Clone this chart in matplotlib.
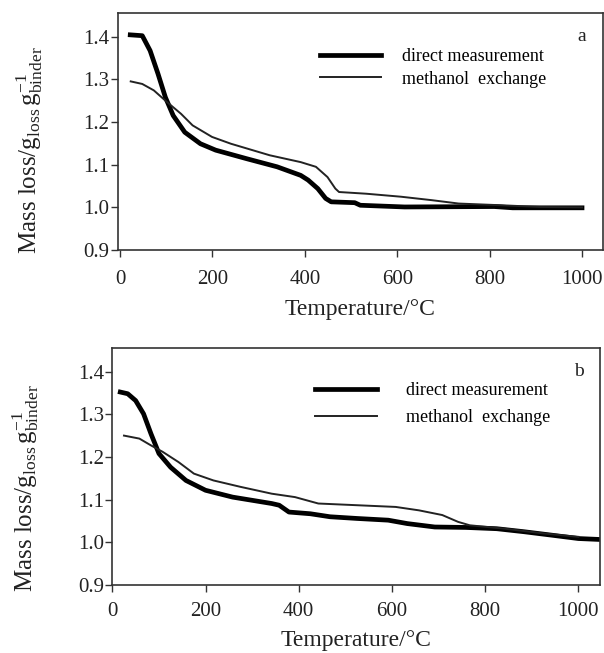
import numpy as np
import matplotlib.pyplot as plt

plt.rcParams['font.family'] = ['Liberation Serif', 'DejaVu Serif']
plt.rcParams['mathtext.fontset'] = 'custom'
plt.rcParams['mathtext.rm'] = 'Liberation Serif'
plt.rcParams['mathtext.it'] = 'Liberation Serif:italic'

# panel a
a_direct_T = [22, 48, 65, 82, 98, 115, 140, 174, 207, 274, 340, 391, 407, 428,
              445, 457, 508, 520, 616, 810, 850, 1000]
a_direct_m = [1.404, 1.402, 1.367, 1.313, 1.258, 1.215, 1.176, 1.149, 1.134,
              1.114, 1.095, 1.075, 1.064, 1.044, 1.021, 1.013, 1.011, 1.005,
              1.001, 1.002, 0.999, 0.999]
a_meth_T = [23, 48, 73, 98, 132, 157, 199, 240, 324, 391, 424, 449, 466, 474,
            533, 608, 674, 733, 825, 908, 1000]
a_meth_m = [1.295, 1.289, 1.274, 1.25, 1.219, 1.192, 1.165, 1.149, 1.122,
            1.106, 1.095, 1.071, 1.044, 1.036, 1.032, 1.025, 1.017, 1.009,
            1.005, 1.001, 1.0]

# panel b
b_direct_T = [17, 33, 50, 67, 83, 100, 125, 158, 200, 258, 342, 358, 379, 425,
              467, 525, 592, 633, 692, 758, 825, 883, 942, 1000, 1042]
b_direct_m = [1.352, 1.348, 1.332, 1.301, 1.254, 1.208, 1.176, 1.145, 1.122,
              1.106, 1.091, 1.087, 1.071, 1.067, 1.06, 1.056, 1.052, 1.044,
              1.036, 1.035, 1.032, 1.025, 1.017, 1.009, 1.007]
b_meth_T = [25, 58, 83, 108, 142, 175, 217, 275, 342, 392, 442, 525, 608, 658,
            708, 742, 767, 842, 925, 1000]
b_meth_m = [1.25, 1.243, 1.227, 1.212, 1.188, 1.161, 1.145, 1.13, 1.114, 1.106,
            1.091, 1.087, 1.083, 1.075, 1.064, 1.048, 1.04, 1.032, 1.021, 1.013]

yticks = [0.9, 1.0, 1.1, 1.2, 1.3, 1.4]
xticks = [0, 200, 400, 600, 800, 1000]
ylab = r'Mass loss/g$_\mathrm{loss}\,$g$_\mathrm{binder}^{-1}$'

fig = plt.figure(figsize=(6.04, 6.53), dpi=100)
ax1 = fig.add_axes([0.195, 0.617, 0.803, 0.363])
ax2 = fig.add_axes([0.186, 0.104, 0.807, 0.363])

# axes, data, tag, xlim, ylabel pos, legend y, labelspacing, textpad,
# x tick pad, xlabel pad
panels = [(ax1, a_direct_T, a_direct_m, a_meth_T, a_meth_m, 'a', (-5, 1045),
           (-0.15, 0.422), 0.768, 0.3, 1.15, 9, 7.5),
          (ax2, b_direct_T, b_direct_m, b_meth_T, b_meth_m, 'b', (0, 1046),
           (-0.147, 0.409), 0.764, 0.55, 1.65, 7, 7)]

for ax, dT, dm, mT, mm, lab, xl, ylpos, legy, ls, tp, xtpad, xpad in panels:
    ax.plot(dT, dm, color='black', lw=3.4, label='direct measurement')
    ax.plot(mT, mm, color='#222222', lw=1.4, label='methanol  exchange')
    ax.set_xlim(*xl)
    ax.set_ylim(0.9, 1.455)
    ax.set_xticks(xticks)
    ax.set_yticks(yticks)
    ax.set_yticklabels(['%.1f' % v for v in yticks])
    ax.tick_params(direction='out', length=5, width=1, labelsize=15,
                   color='#333333', colors='#222222')
    ax.tick_params(axis='x', pad=xtpad)
    ax.tick_params(axis='y', pad=1)
    for s in ax.spines.values():
        s.set_color('#333333')
        s.set_linewidth(1.2)
    ax.set_xlabel('Temperature/°C', fontsize=17, labelpad=xpad, color='#222222')
    ax.set_ylabel(ylab, fontsize=18, color='#222222')
    ax.yaxis.set_label_coords(*ylpos)
    ax.text(0.957, 0.9, lab, transform=ax.transAxes, fontsize=14,
            ha='center', va='center', color='#222222')
    ax.legend(loc='center left', bbox_to_anchor=(0.416, legy), frameon=False,
              fontsize=13, handlelength=3.4, handletextpad=tp,
              labelspacing=ls, borderpad=0, borderaxespad=0)

fig.savefig('out.png', dpi=100)
